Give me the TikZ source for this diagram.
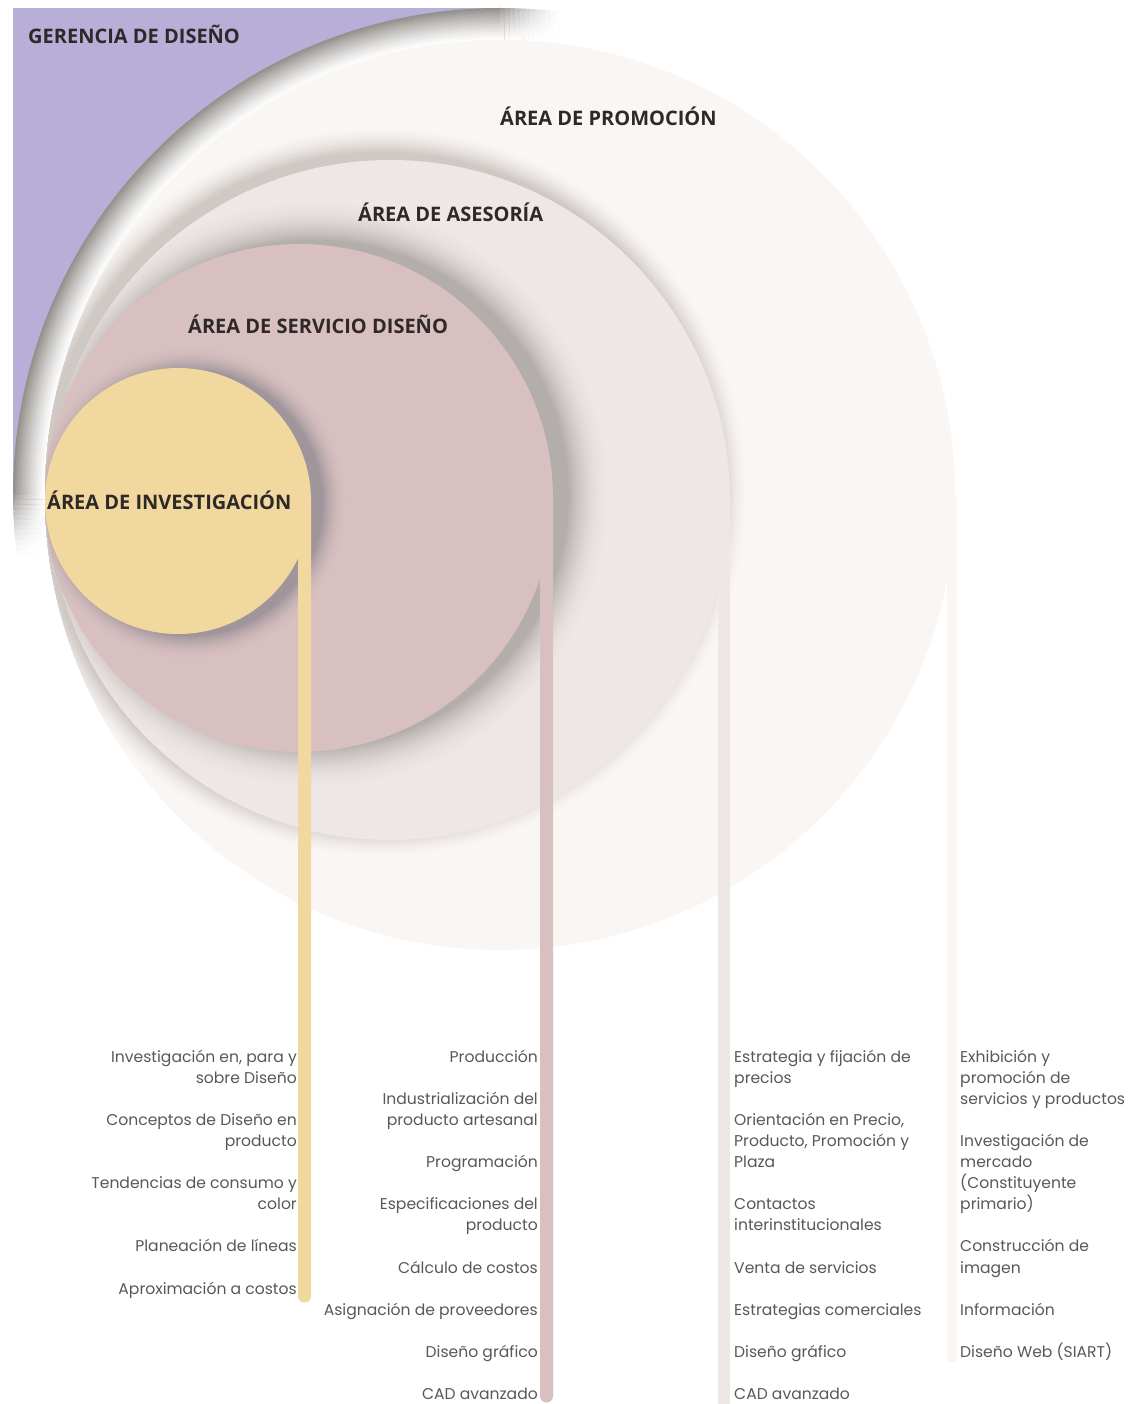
\documentclass[tikz,border=0pt]{standalone}
\usepackage{fontspec}
\setmainfont{Poppins}
\newfontfamily\headfont{Open Sans}
\usetikzlibrary{calc}
\definecolor{purp}{HTML}{B7AFD8}
\definecolor{promo}{HTML}{FAF6F3}
\definecolor{ases}{HTML}{EFE7E5}
\definecolor{serv}{HTML}{D8C0C0}
\definecolor{inv}{HTML}{F1D89E}
\definecolor{ringdark}{HTML}{94908C}
\definecolor{asesdark}{HTML}{CFC9C5}
\definecolor{servdark}{HTML}{B3ADAB}
\definecolor{invdark}{HTML}{A0959B}
\definecolor{txt}{HTML}{585858}
\definecolor{headc}{HTML}{2F2828}
\tikzset{
  head/.style={font=\headfont\bfseries\fontsize{20}{23}\selectfont, text=headc, anchor=base west, inner sep=0pt},
  itemR/.style={font=\fontsize{15.6}{18}\selectfont, text=txt, anchor=base east, inner sep=0pt},
  itemL/.style={font=\fontsize{15.6}{18}\selectfont, text=txt, anchor=base west, inner sep=0pt}
}
\begin{document}
\begin{tikzpicture}[x=1pt,y=-1pt]
\useasboundingbox (0,0) rectangle (1129,1404);
\fill[white] (0,0) rectangle (1129,1404);
% centres
\coordinate (Pc) at (500,495);
\coordinate (Ac) at (390,500);
\coordinate (As) at (382,492);
\coordinate (Sc) at (299,498);
\coordinate (Ss) at (315,494);
\coordinate (Ic) at (178,501);
\coordinate (Is) at (190,503);
% Gerencia (purple field)
\fill[purp] (13,8) rectangle (500,495);
% bevel ring around the promotion circle
\foreach \j in {0,...,20}{
  \pgfmathsetmacro\rr{487-1.6*\j}
  \pgfmathsetmacro\pc{100*(1-\j/20)^1.3}
  \fill[ringdark!\pc!white] (Pc) -- ++(180:\rr) arc[start angle=180,end angle=270,radius=\rr] -- cycle;
}
\foreach \k in {1,...,12}{
  \foreach \j in {0,...,20}{
    \pgfmathsetmacro\rr{487-1.6*\j}
    \pgfmathsetmacro\pc{100*(1-\j/20)^1.3*(1-\k/13)^1.5}
    \pgfmathsetmacro\aa{270+(\k-1)*0.6}
    \pgfmathsetmacro\ab{270+\k*0.6+0.05}
    \pgfmathsetmacro\ba{180-\k*0.6-0.05}
    \pgfmathsetmacro\bb{180-(\k-1)*0.6}
    \fill[ringdark!\pc!white] (Pc) -- ++(\aa:\rr) arc[start angle=\aa,end angle=\ab,radius=\rr] -- cycle;
    \fill[ringdark!\pc!white] (Pc) -- ++(\ba:\rr) arc[start angle=\ba,end angle=\bb,radius=\rr] -- cycle;
  }
}
% promotion
\fill[promo] (Pc) circle[radius=455];
\fill[promo] (947,495) rectangle (957,1362);
% asesoria shadow + circle
\begin{scope}
  \clip (Pc) circle[radius=455];
  \foreach \j in {0,...,20}{
    \pgfmathsetmacro\rr{340+26*(1-\j/20)}
    \pgfmathsetmacro\pc{100*(\j/20)^1.6}
    \fill[asesdark!\pc!promo] (As) circle[radius=\rr];
  }
\end{scope}
\fill[ases] (Ac) circle[radius=340];
\fill[ases] (718,500) rectangle (730,1404);
% servicio shadow + circle
\begin{scope}
  \clip (Ac) circle[radius=340];
  \foreach \j in {0,...,24}{
    \pgfmathsetmacro\rr{254+44*(1-\j/24)}
    \pgfmathsetmacro\pc{100*(\j/24)^2}
    \fill[servdark!\pc!ases] (Ss) circle[radius=\rr];
  }
\end{scope}
\fill[serv] (Sc) circle[radius=254];
\fill[serv] (540,498) -- (553,498) -- (553,1396) arc[start angle=0,end angle=180,radius=6.5] -- cycle;
% investigacion shadow + circle
\begin{scope}
  \clip (Sc) circle[radius=254];
  \foreach \j in {0,...,20}{
    \pgfmathsetmacro\rr{133+26*(1-\j/20)}
    \pgfmathsetmacro\pc{100*(\j/20)^2}
    \fill[invdark!\pc!serv] (Is) circle[radius=\rr];
  }
\end{scope}
\fill[inv] (Ic) circle[radius=133];
\fill[inv] (298,501) -- (311,501) -- (311,1296) arc[start angle=0,end angle=180,radius=6.5] -- cycle;
% headings
\node[head] (hger) at (28,44) {GERENCIA DE DISEÑO};
\node[head] (hpro) at (500,126) {ÁREA DE PROMOCIÓN};
\node[head] (hase) at (358,222) {ÁREA DE ASESORÍA};
\node[head] (hser) at (188,334) {ÁREA DE SERVICIO DISEÑO};
\node[head] (hinv) at (47,509) {ÁREA DE INVESTIGACIÓN};
% column 1
\node[itemR] (a1) at (297,1062) {Investigación en, para y};
\node[itemR] (a2) at (297,1083) {sobre Diseño};
\node[itemR] (a3) at (297,1125) {Conceptos de Diseño en};
\node[itemR] (a4) at (297,1146) {producto};
\node[itemR] (a5) at (297,1188) {Tendencias de consumo y};
\node[itemR] (a6) at (297,1209) {color};
\node[itemR] (a7) at (297,1251) {Planeación de líneas};
\node[itemR] (a8) at (297,1294) {Aproximación a costos};
% column 2
\node[itemR] (b1) at (538,1062) {Producción};
\node[itemR] (b2) at (538,1104) {Industrialización del};
\node[itemR] (b3) at (538,1125) {producto artesanal};
\node[itemR] (b4) at (538,1167) {Programación};
\node[itemR] (b5) at (538,1209) {Especificaciones del};
\node[itemR] (b6) at (538,1230) {producto};
\node[itemR] (b7) at (538,1273) {Cálculo de costos};
\node[itemR] (b8) at (538,1315) {Asignación de proveedores};
\node[itemR] (b9) at (538,1357) {Diseño gráfico};
\node[itemR] (b10) at (538,1399) {CAD avanzado};
% column 3
\node[itemL] (c1) at (734,1062) {Estrategia y fijación de};
\node[itemL] (c2) at (734,1083) {precios};
\node[itemL] (c3) at (734,1125) {Orientación en Precio,};
\node[itemL] (c4) at (734,1146) {Producto, Promoción y};
\node[itemL] (c5) at (734,1167) {Plaza};
\node[itemL] (c6) at (734,1209) {Contactos};
\node[itemL] (c7) at (734,1230) {interinstitucionales};
\node[itemL] (c8) at (734,1273) {Venta de servicios};
\node[itemL] (c9) at (734,1315) {Estrategias comerciales};
\node[itemL] (c10) at (734,1357) {Diseño gráfico};
\node[itemL] (c11) at (734,1399) {CAD avanzado};
% column 4
\node[itemL] (d1) at (960,1062) {Exhibición y};
\node[itemL] (d2) at (960,1083) {promoción de};
\node[itemL] (d3) at (960,1104) {servicios y productos};
\node[itemL] (d4) at (960,1146) {Investigación de};
\node[itemL] (d5) at (960,1167) {mercado};
\node[itemL] (d6) at (960,1188) {(Constituyente};
\node[itemL] (d7) at (960,1209) {primario)};
\node[itemL] (d8) at (960,1251) {Construcción de};
\node[itemL] (d9) at (960,1273) {imagen};
\node[itemL] (d10) at (960,1315) {Información};
\node[itemL] (d11) at (960,1357) {Diseño Web (SIART)};
\end{tikzpicture}
\end{document}
